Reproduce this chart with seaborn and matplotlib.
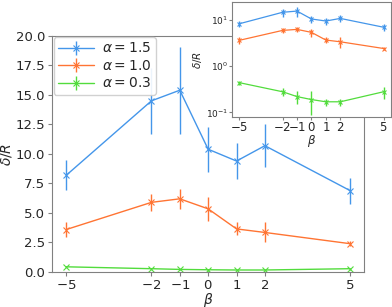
import numpy as np
import matplotlib
matplotlib.use("Agg")
import matplotlib.pyplot as plt
import seaborn as sns
from matplotlib.legend_handler import HandlerTuple

sns.set_style("ticks")
plt.rcParams['font.family'] = ['DejaVu Sans']

# data
beta = [-5, -2, -1, 0, 1, 2, 5]
alphas = ['1.5', '1.0', '0.3']
vals_15 = [8.2, 14.5, 15.4, 10.4, 9.4, 10.7, 6.9]
err_15 = [1.25, 2.8, 3.7, 1.9, 1.5, 1.8, 1.1]
vals_10 = [3.6, 5.9, 6.2, 5.35, 3.65, 3.35, 2.4]
err_10 = [0.6, 0.75, 0.85, 1.0, 0.55, 0.85, 0.2]
vals_03 = [0.44, 0.28, 0.22, 0.19, 0.17, 0.17, 0.28]
err_03 = [0.04, 0.055, 0.07, 0.1, 0.03, 0.03, 0.08]
colors = ['#4496ea', '#ff7433', '#52dc3c']

series = [(vals_15, err_15), (vals_10, err_10), (vals_03, err_03)]

fig = plt.figure(figsize=(3.92, 3.07), dpi=100)
ax = fig.add_axes([0.133, 0.114, 0.796, 0.769])
ins = fig.add_axes([0.592, 0.619, 0.405, 0.374])


def draw(a, ms, lw, elw):
    handles = []
    for (v, e), c in zip(series, colors):
        sns.lineplot(x=beta, y=v, ax=a, color=c, marker='x', markersize=ms,
                     markeredgecolor=c, markeredgewidth=0.8, linewidth=lw,
                     legend=False)
        eb = a.errorbar(beta, v, yerr=e, fmt='none', ecolor=c, elinewidth=elw)
        handles.append((a.lines[-1], eb))
    return handles


handles = draw(ax, 5, 1.0, 1.0)
ax.set_ylim(0, 20)
ax.set_yticks(np.arange(0, 20.1, 2.5))
ax.set_xticks(beta)
ax.set_xticklabels(['$-5$', '$-2$', '$-1$', '$0$', '$1$', '$2$', '$5$'])
ax.tick_params(labelsize=9.5, color='#808080', length=3, pad=2)
ax.set_xlabel(r'$\beta$', fontsize=10, labelpad=-1)
ax.set_ylabel(r'$\delta/R$', fontsize=10, labelpad=1)
for s in ax.spines.values():
    s.set_color('#808080')
ax.legend(handles, [r'$\alpha = $' + a for a in alphas],
          handler_map={tuple: HandlerTuple(ndivide=1)},
          loc='upper left', fontsize=10, handlelength=2.6, borderaxespad=0.1,
          labelspacing=0.25, handletextpad=0.6, borderpad=0.3, framealpha=0.9)

draw(ins, 3, 0.9, 1.0)
ins.set_yscale('log')
ins.set_ylim(0.08, 24)
ins.set_xticks(beta)
ins.set_xticklabels(['$-5$', '$-2$', '$-1$', '$0$', '$1$', '$2$', '$5$'])
ins.tick_params(axis='x', labelsize=8.5, color='#808080', length=2, pad=1)
ins.tick_params(axis='y', labelsize=6.5, color='#808080', length=2, pad=1)
ins.tick_params(axis='y', which='minor', length=0)
ins.set_xlabel(r'$\beta$', fontsize=8.5, labelpad=-1)
ins.set_ylabel(r'$\delta/R$', fontsize=7.5, labelpad=1)
for s in ins.spines.values():
    s.set_color('#808080')

fig.savefig('out.png', dpi=100)
